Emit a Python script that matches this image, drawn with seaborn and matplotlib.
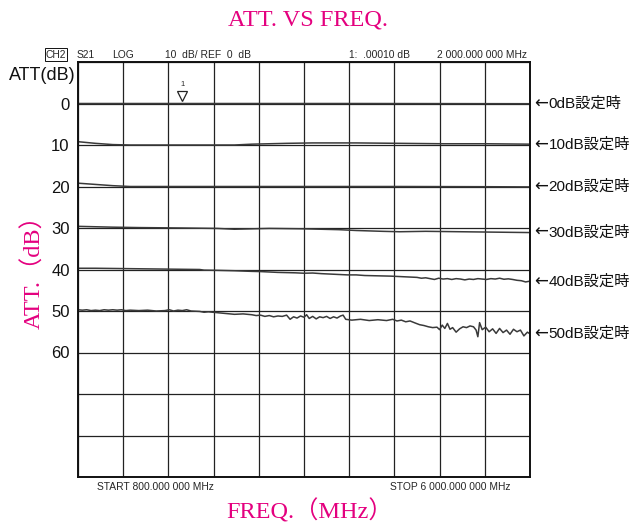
"""ATT. VS FREQ. chart (network analyzer screen capture)."""

import matplotlib

matplotlib.use("Agg")
import matplotlib.pyplot as plt
import pandas as pd
import seaborn as sns

# --- data ---------------------------------------------------------------
freq_0db = [800, 2000, 4000, 6000]
att_0db = [0.0, 0.0, 0.0, 0.05]

freq_10db = [800, 1000, 1200, 1400, 2000, 2600, 2800, 3000, 3200, 3500,
             4000, 4500, 5000, 5500, 6000]
att_10db = [9.2, 9.6, 9.9, 10.0, 10.0, 10.0, 9.8, 9.7, 9.6, 9.5,
            9.5, 9.6, 9.7, 9.7, 9.8]

freq_20db = [800, 1000, 1200, 1400, 2500, 3500, 4500, 5500, 6000]
att_20db = [19.2, 19.5, 19.8, 20.0, 20.0, 20.0, 20.0, 20.05, 20.1]

freq_30db = [800, 1200, 1500, 2000, 2400, 2600, 2800, 3000, 3400, 3800,
             4000, 4300, 4500, 4800, 5200, 5600, 6000]
att_30db = [29.6, 29.8, 29.9, 30.0, 30.1, 30.3, 30.2, 30.1, 30.2, 30.4,
            30.6, 30.8, 30.9, 30.8, 30.9, 31.0, 31.1]

freq_40db = [800, 1000, 1200, 1400, 1600, 1800, 2000, 2200, 2250, 2400,
             2600, 2800, 2900, 3000, 3100, 3200, 3300, 3400, 3500, 3600,
             3700, 3800, 3900, 4000, 4100, 4200, 4300, 4400, 4500, 4600,
             4700, 4750, 4800, 4850, 4900, 4950, 5000, 5050, 5100, 5150,
             5200, 5250, 5300, 5350, 5400, 5450, 5500, 5550, 5600, 5650,
             5700, 5750, 5800, 5850, 5900, 5950, 6000]
att_40db = [39.7, 39.7, 39.75, 39.8, 39.85, 39.9, 39.95, 40.0, 40.15, 40.2,
            40.3, 40.45, 40.5, 40.6, 40.7, 40.75, 40.8, 40.9, 40.85, 41.0,
            41.1, 41.2, 41.3, 41.3, 41.45, 41.5, 41.55, 41.6, 41.7, 41.8,
            41.9, 42.1, 42.0, 42.2, 42.4, 42.1, 42.3, 42.2, 42.4, 42.2,
            42.3, 42.5, 42.3, 42.4, 42.2, 42.3, 42.4, 42.2, 42.3, 42.1,
            42.35, 42.25, 42.4, 42.6, 42.7, 43.0, 42.8]

freq_50db = [800, 850, 900, 950, 1000, 1050, 1100, 1150, 1200, 1250,
             1300, 1350, 1400, 1500, 1600, 1700, 1800, 1850, 1900, 1950,
             2000, 2050, 2100, 2200, 2250, 2300, 2400, 2500, 2600, 2700,
             2800, 2850, 2900, 2950, 3000, 3050, 3100, 3150, 3200, 3240,
             3280, 3320, 3360, 3400, 3430, 3460, 3500, 3540, 3580, 3620,
             3660, 3700, 3740, 3780, 3820, 3850, 3880, 3950, 4050, 4150,
             4250, 4350, 4420, 4470, 4520, 4570, 4620, 4680, 4730, 4780,
             4830, 4880, 4930, 4960, 4990, 5020, 5050, 5080, 5110, 5150,
             5190, 5230, 5270, 5310, 5350, 5380, 5400, 5420, 5450, 5490,
             5530, 5570, 5610, 5650, 5690, 5730, 5770, 5810, 5850, 5890,
             5930, 5970, 6000]
att_50db = [49.7, 49.8, 49.7, 49.9, 49.8, 49.9, 49.7, 49.8, 49.7, 49.8,
            49.7, 49.9, 49.8, 49.9, 49.8, 50.0, 49.9, 49.7, 50.0, 49.8,
            49.9, 49.7, 50.0, 50.1, 50.3, 50.2, 50.4, 50.6, 50.8, 50.7,
            50.9, 51.1, 51.0, 51.3, 51.1, 51.4, 51.2, 51.3, 51.0, 52.0,
            51.4, 51.7, 51.2, 51.5, 50.9, 51.8, 51.3, 51.9, 51.4, 51.6,
            51.3, 51.8, 51.4, 51.7, 51.2, 51.0, 52.0, 52.2, 52.0, 52.3,
            52.1, 52.3, 52.0, 52.4, 52.2, 52.6, 52.4, 52.9, 53.3, 53.5,
            53.8, 54.0, 53.9, 54.5, 53.4, 54.2, 53.0, 54.4, 54.0, 55.1,
            54.3, 53.8, 54.0, 53.6, 53.8, 54.6, 56.2, 52.8, 54.5, 53.9,
            55.0, 54.3, 55.4, 54.2, 55.2, 54.6, 55.6, 54.4, 55.0, 54.6,
            56.0, 55.1, 55.5]

settings = ["0dB", "10dB", "20dB", "30dB", "40dB", "50dB"]
label_levels = [0.0, 10.0, 20.0, 31.0, 42.9, 55.4]

traces = [
    (freq_0db, att_0db),
    (freq_10db, att_10db),
    (freq_20db, att_20db),
    (freq_30db, att_30db),
    (freq_40db, att_40db),
    (freq_50db, att_50db),
]

marker_freq = 2000
marker_att = -1.7

x_grid = [800 + 520 * i for i in range(11)]
y_grid = list(range(-10, 100, 10))
y_labels = [str(v) if 0 <= v <= 60 else "" for v in y_grid]

PINK = "#e4007f"
SERIF = ["Liberation Serif", "Noto Sans CJK JP"]
SANS = ["Liberation Sans", "Noto Sans CJK JP", "DejaVu Sans"]
SMALL = 7.4

# --- plot ---------------------------------------------------------------
sns.set_theme(style="white")
plt.rcParams["font.family"] = SANS

fig = plt.figure(figsize=(6.37, 5.23), dpi=100)
ax = fig.add_axes([78 / 637, 46 / 523, 452 / 637, 415 / 523])

for name, (f, a) in zip(settings, traces):
    df = pd.DataFrame({"freq": f, "att": a})
    sns.lineplot(data=df, x="freq", y="att", ax=ax, color="#3a3a3a",
                 linewidth=1.1, estimator=None, sort=False)

ax.set_xlim(800, 6000)
ax.set_ylim(90, -10)
ax.set_xticks(x_grid)
ax.set_xticklabels([])
ax.set_yticks(y_grid)
ax.set_yticklabels(y_labels, fontsize=12, color="#111111")
ax.tick_params(length=0, pad=6)
ax.grid(True, color="#222222", linewidth=0.9)
ax.set_xlabel("")
ax.set_ylabel("")
for s in ax.spines.values():
    s.set_color("#111111")
    s.set_linewidth(1.4)

# marker 1
ax.plot([marker_freq], [marker_att], marker="v", markersize=7,
        markerfacecolor="white", markeredgecolor="#222222",
        markeredgewidth=0.9, linestyle="none")
ax.text(marker_freq, marker_att - 2.1, "1", fontsize=5.5,
        ha="center", va="bottom")

# right-hand labels
ytrans = ax.get_yaxis_transform()
for name, lvl in zip(settings, label_levels):
    ax.text(1.009, lvl, "←", transform=ytrans, fontsize=12,
            family=["DejaVu Sans"], va="center", ha="left", color="#111111")
    ax.text(1.041, lvl, f"{name}設定時", transform=ytrans,
            fontsize=11, va="center", ha="left", color="#111111")

# analyzer header / footer
hdr_y = 1.006
ax.text(-0.071, hdr_y, "CH2", transform=ax.transAxes, fontsize=SMALL,
        va="bottom", ha="left",
        bbox=dict(boxstyle="square,pad=0.1", fc="none", ec="#111111", lw=0.7))
ax.text(-0.003, hdr_y, "S21", transform=ax.transAxes, fontsize=SMALL,
        va="bottom", ha="left")
ax.text(0.075, hdr_y, "LOG", transform=ax.transAxes, fontsize=SMALL,
        va="bottom", ha="left")
ax.text(0.193, hdr_y, "10  dB/ REF  0  dB", transform=ax.transAxes,
        fontsize=SMALL, va="bottom", ha="left")
ax.text(0.60, hdr_y, "1:  .00010 dB", transform=ax.transAxes,
        fontsize=SMALL, va="bottom", ha="left")
ax.text(0.795, hdr_y, "2 000.000 000 MHz", transform=ax.transAxes,
        fontsize=SMALL, va="bottom", ha="left")
ax.text(0.042, -0.013, "START 800.000 000 MHz", transform=ax.transAxes,
        fontsize=SMALL, va="top", ha="left")
ax.text(0.69, -0.013, "STOP 6 000.000 000 MHz", transform=ax.transAxes,
        fontsize=SMALL, va="top", ha="left")
fig.text(9 / 637, 1 - 75 / 523, "ATT(dB)", fontsize=13, va="center",
         ha="left", color="#111111")

# pink titles
fig.text(308 / 637, 1 - 20 / 523, "ATT. VS FREQ.", fontsize=17.5,
         color=PINK, family=SERIF, ha="center", va="center")
fig.text(34 / 637, 1 - 266 / 523, "ATT.（dB）", fontsize=17.5, color=PINK,
         family=SERIF, ha="center", va="center", rotation=90)
fig.text(310 / 637, 1 - 511 / 523, "FREQ.（MHz）", fontsize=17.5,
         color=PINK, family=SERIF, ha="center", va="center")

fig.savefig("out.png", dpi=100)
